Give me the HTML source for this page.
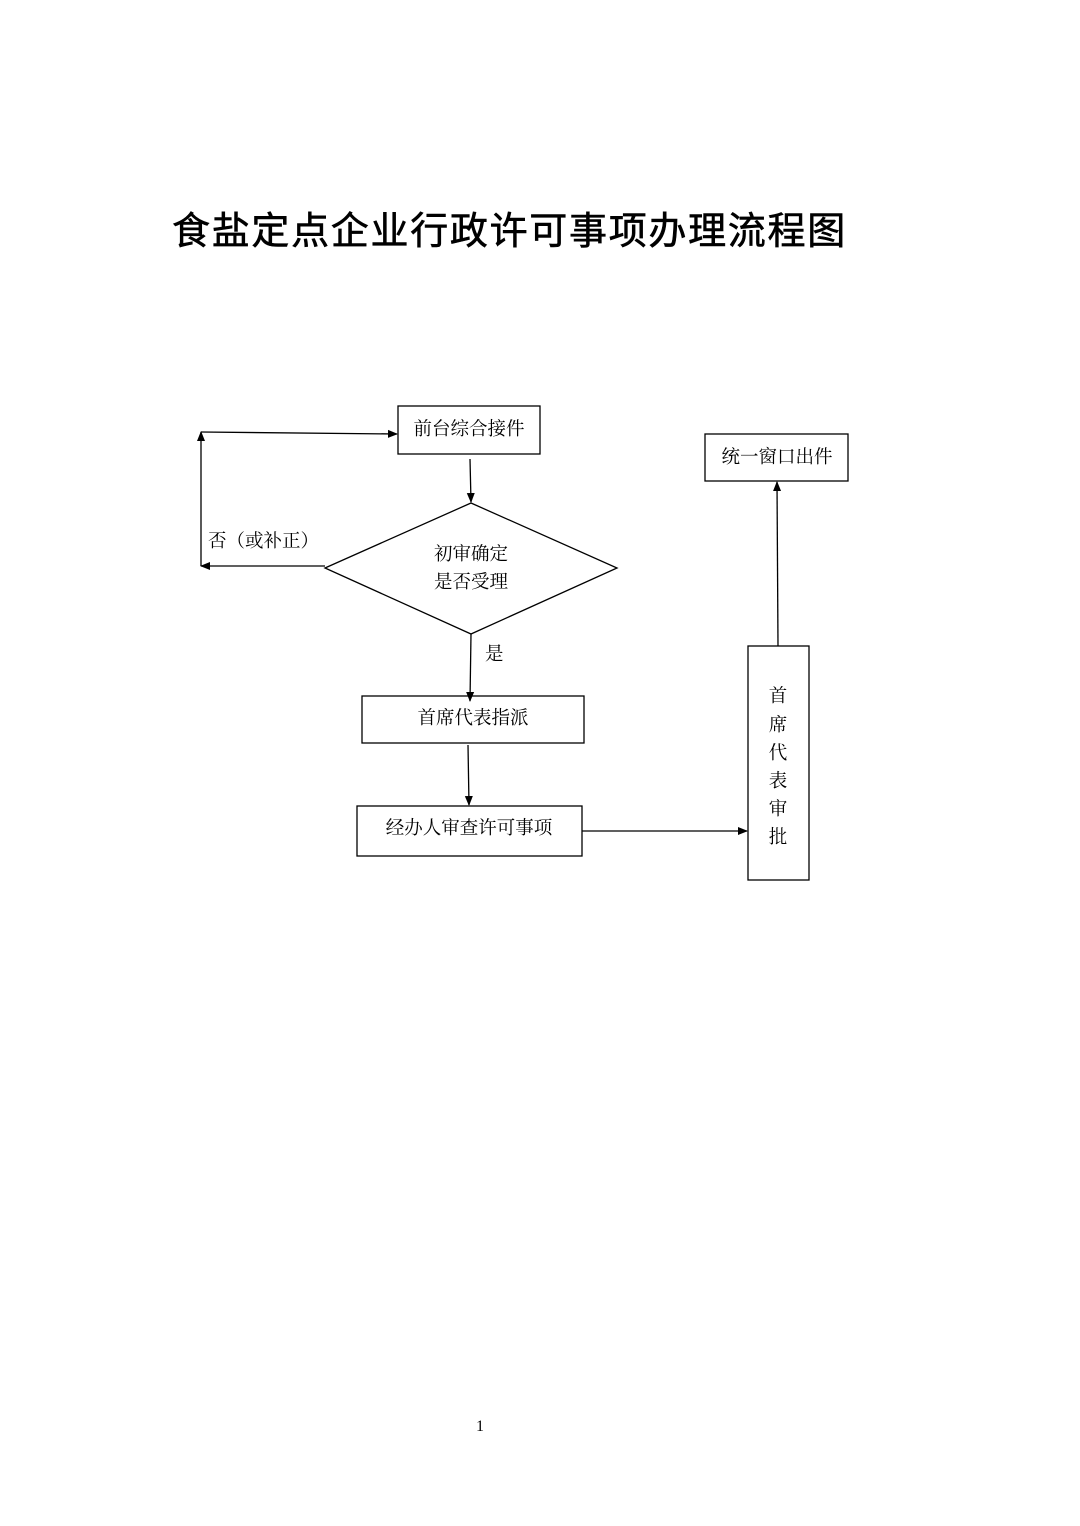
<!DOCTYPE html>
<html><head><meta charset="utf-8"><style>
body{margin:0;background:#fff;}
svg{display:block}
text{font-family:"Liberation Serif","Noto Serif CJK SC",serif;fill:#000}
.t{font-family:"Liberation Sans","Noto Sans CJK SC",sans-serif;font-size:38px;letter-spacing:1.7px;font-weight:normal;stroke:#000;stroke-width:0.6px}
</style></head><body>
<svg width="1080" height="1526" viewBox="0 0 1080 1526" xmlns="http://www.w3.org/2000/svg">
<defs><marker id="a" markerWidth="10" markerHeight="10" refX="9" refY="5" orient="auto" markerUnits="userSpaceOnUse"><path d="M0,1 L10,5 L0,9 Z" fill="#000"/></marker></defs>
<text class="t" x="172" y="244">食盐定点企业行政许可事项办理流程图</text>
<g fill="none" stroke="#000" stroke-width="1.3">
<rect x="398" y="406" width="142" height="48"/>
<rect x="705" y="434" width="143" height="47"/>
<polygon points="325,568 471,503 617,568 471,634"/>
<rect x="362" y="696" width="222" height="47"/>
<rect x="357" y="806" width="225" height="50"/>
<rect x="748" y="646" width="61" height="234"/>
<line x1="470" y1="459" x2="471" y2="502" marker-end="url(#a)"/>
<line x1="325" y1="566" x2="201" y2="566" marker-end="url(#a)"/>
<line x1="201" y1="566" x2="201" y2="432" marker-end="url(#a)"/>
<line x1="201" y1="432" x2="397" y2="434" marker-end="url(#a)"/>
<line x1="471" y1="634" x2="470" y2="701" marker-end="url(#a)"/>
<line x1="468" y1="745" x2="469" y2="805" marker-end="url(#a)"/>
<line x1="582" y1="831" x2="747" y2="831" marker-end="url(#a)"/>
<line x1="778" y1="646" x2="777" y2="482" marker-end="url(#a)"/>
</g>
<g font-size="18.5">
<text x="469" y="435" text-anchor="middle">前台综合接件</text>
<text x="777" y="463" text-anchor="middle">统一窗口出件</text>
<text x="471" y="560" text-anchor="middle">初审确定</text>
<text x="471" y="588" text-anchor="middle">是否受理</text>
<text x="473" y="724" text-anchor="middle">首席代表指派</text>
<text x="469" y="834" text-anchor="middle">经办人审查许可事项</text>
<text x="208" y="547">否（或补正）</text>
<text x="485" y="660">是</text>
<g text-anchor="middle"><text x="778" y="702">首</text><text x="778" y="731">席</text><text x="778" y="759">代</text><text x="778" y="787">表</text><text x="778" y="815">审</text><text x="778" y="843">批</text></g>
<text x="480" y="1431" text-anchor="middle" font-size="16">1</text>
</g>
</svg>
</body></html>
